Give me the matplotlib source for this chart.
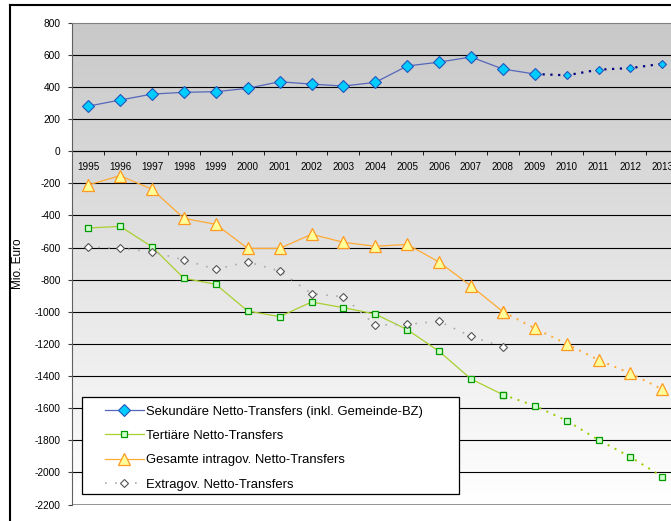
import numpy as np
import matplotlib
matplotlib.use("Agg")
import matplotlib.pyplot as plt
from matplotlib.lines import Line2D
from matplotlib.patches import Rectangle

plt.rcParams['font.family'] = ['Liberation Sans', 'DejaVu Sans']
plt.rcParams['axes.unicode_minus'] = False

years = list(range(1995, 2014))
sekundaer = [281, 319, 356, 367, 371, 392, 433, 418, 406, 429, 531, 555, 587, 512, 481,
             473, 508, 518, 545]
tertiaer = [-478, -468, -595, -791, -829, -995, -1030, -939, -974, -1014, -1111, -1246, -1418,
            -1516, -1585, -1678, -1798, -1904, -2027]
gesamt = [-210, -152, -237, -418, -455, -605, -605, -517, -567, -592, -580, -690, -839,
          -999, -1103, -1200, -1300, -1383, -1483]
extragov = [-595, -605, -626, -677, -735, -688, -746, -887, -906, -1082, -1078, -1059, -1153,
            -1217]
yticks = list(range(-2200, 801, 200))

labels = ["Sekundäre Netto-Transfers (inkl. Gemeinde-BZ)",
          "Tertiäre Netto-Transfers",
          "Gesamte intragov. Netto-Transfers",
          "Extragov. Netto-Transfers"]

W, H = 671, 521
fig = plt.figure(figsize=(W / 100, H / 100), dpi=100)
# plot area runs past the right edge of the picture (cut off like the original)
ax = fig.add_axes([72.3 / W, 16.5 / H, 606 / W, 481.7 / H])
ax.set_xlim(1994.5, 2013.5)
ax.set_ylim(-2200, 800)
ax.spines["bottom"].set_position(("data", 0))  # before tick styling (resets ticks)

# grey -> white background gradient
grad = np.linspace(0, 1, 256).reshape(-1, 1)
ax.imshow(grad, extent=[1994.5, 2013.5, -2200, 800], aspect="auto", origin="upper",
          cmap=matplotlib.colors.LinearSegmentedColormap.from_list("g", ["#c8c8c8", "#ffffff"]),
          zorder=0)

for yv in yticks:
    if yv in (800, -2200):
        continue
    ax.axhline(yv, color="black", lw=0.8, zorder=1)
ax.axhline(-2200, color="#808080", lw=1.2, zorder=1)

i_sol = years.index(2009) + 1
i_dot = years.index(2008)

# Sekundaere
ax.plot(years[:i_sol], sekundaer[:i_sol], color="#5566bb", lw=0.9, marker="D", ms=6,
        mfc="#00ccff", mec="#2255bb", mew=0.8, label=labels[0], zorder=5)
ax.plot(years[i_sol - 1:], sekundaer[i_sol - 1:], color="#000080", lw=1.6, ls=(0, (1, 2.5)),
        zorder=4)
ax.plot(years[i_sol:], sekundaer[i_sol:], ls="none", marker="D", ms=4.5,
        mfc="#00ccff", mec="#2255bb", mew=0.8, zorder=5)

# Tertiaere
ax.plot(years[:i_dot + 1], tertiaer[:i_dot + 1], color="#a8d030", lw=0.9, marker="s", ms=4.5,
        mfc="#ccffcc", mec="#009900", mew=0.9, label=labels[1], zorder=5)
ax.plot(years[i_dot:], tertiaer[i_dot:], color="#99cc00", lw=1.4, ls=(0, (1, 3)),
        marker="s", ms=4.5, mfc="#ccffcc", mec="#009900", mew=0.9, zorder=5)

# Gesamte
ax.plot(years[:i_dot + 1], gesamt[:i_dot + 1], color="#ffaa33", lw=0.9, marker="^", ms=8,
        mfc="#ffff99", mec="#ff9922", mew=0.9, label=labels[2], zorder=5)
ax.plot(years[i_dot:], gesamt[i_dot:], color="#ffaa33", lw=1.4, ls=(0, (1, 3)),
        marker="^", ms=8, mfc="#ffff99", mec="#ff9922", mew=0.9, zorder=5)

# Extragov
ax.plot(years[:len(extragov)], extragov, color="#aaaaaa", lw=1.2, ls=(0, (1, 5)),
        marker="D", ms=4, mfc="white", mec="#555555", mew=0.8, label=labels[3], zorder=5)

# axes styling
ax.set_yticks(yticks)
ax.set_yticklabels([str(v) for v in yticks])
ax.tick_params(axis="y", direction="out", length=3, color="#404040", pad=5.5, labelsize=7.3)
ax.set_xticks(years)
ax.set_xticklabels([str(y) for y in years])
ax.set_xticks([y + 0.5 for y in years[:-1]], minor=True)
ax.tick_params(axis="x", which="major", length=0, pad=8, labelsize=7.1)
ax.tick_params(axis="x", which="minor", direction="out", length=3, color="black")
ax.spines["bottom"].set_color("black")
ax.spines["bottom"].set_zorder(2)
ax.spines["top"].set_color("#808080")
ax.spines["left"].set_color("#606060")
ax.spines["right"].set_visible(False)
ax.set_ylabel("Mio. Euro", fontsize=8.5)
ax.yaxis.set_label_coords(-0.079, 0.5)

# legend: box drawn separately (under the entries), entries without frame
ax.add_patch(Rectangle((82 / W, 1 - 494 / H), 377 / W, 97 / H, transform=fig.transFigure,
                       facecolor="white", edgecolor="black", lw=0.9, zorder=9,
                       clip_on=False))
leg = ax.legend(loc="upper left", bbox_to_anchor=(83 / W, 1 - 384 / H),
                bbox_transform=fig.transFigure, fontsize=9.4, frameon=False,
                handlelength=3.0, handletextpad=0.15, borderpad=1.65, labelspacing=0.93,
                borderaxespad=0)
leg.set_zorder(10)

# outer chart frame (cut at right and bottom)
fig.add_artist(Line2D([10 / W, 10 / W], [0, 1 - 5 / H], color="black", lw=1.5,
                      transform=fig.transFigure))
fig.add_artist(Line2D([10 / W, 1], [1 - 5 / H, 1 - 5 / H], color="black", lw=1.5,
                      transform=fig.transFigure))

fig.savefig("out.png", dpi=100)
